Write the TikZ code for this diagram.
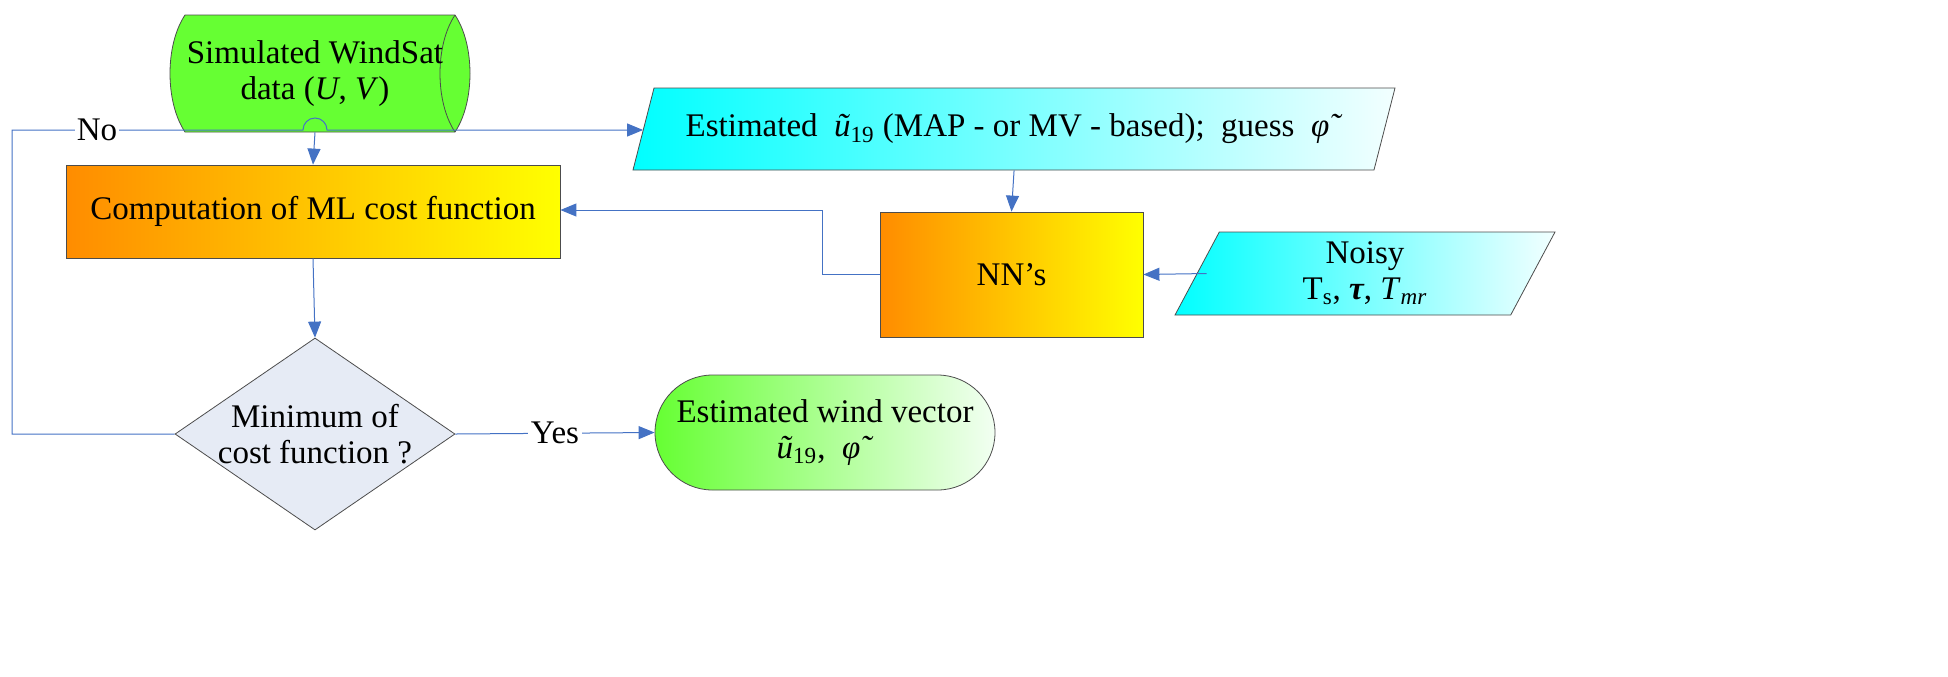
\documentclass[tikz,border=0pt]{standalone}
\usepackage{fontspec}
\setmainfont{Liberation Serif}
\usetikzlibrary{shapes.geometric,shapes.misc,arrows.meta}
\definecolor{ln}{HTML}{4472C4}
\definecolor{grn}{HTML}{66FF33}
\newlength\uu \setlength\uu{0.5pt}
\newcommand{\tu}{\textit{ũ}\textsubscript{19}}
\newcommand{\tphi}{\textit{φ̃}}
\begin{document}
\begin{tikzpicture}[x=\uu,y=-\uu,
  font=\fontsize{16.5}{20}\selectfont,
  con/.style={draw=ln,line width=0.5pt},
  arr/.style={con,-{Triangle[length=8pt,width=6.5pt]}},
  box/.style={draw=black!70,line width=0.4pt,left color=orange!90!yellow,right color=yellow,inner sep=0pt,align=center},
  para/.style={trapezium,trapezium left angle=55,trapezium right angle=125,trapezium stretches body,draw=black!70,line width=0.4pt,left color=cyan,right color=cyan!5,inner sep=0pt,align=center}]
% storage
\fill[grn,draw=black!70,line width=0.4pt] (185,15) -- (455,15) .. controls (475,45) and (475,102) .. (455,132) -- (185,132) .. controls (165,102) and (165,45) .. (185,15) -- cycle;
\draw[black!70,line width=0.4pt] (455,15) .. controls (435,45) and (435,102) .. (455,132);
\node[align=center,inner sep=0pt,minimum width=300\uu,minimum height=117\uu] (sto) at (315,73.5) {Simulated WindSat\\[-2pt]data (\textit{U}, \textit{V})};
\node[box,minimum width=494\uu,minimum height=93\uu] (ml) at (313,211.5) {Computation of ML cost function};
\node[para,minimum width=762\uu,minimum height=82\uu] (est) at (1014,129) {Estimated \ \tu{} (MAP - or MV - based); \ guess \ \tphi};
\node[box,minimum width=263\uu,minimum height=125\uu] (nn) at (1011.5,274.5) {NN’s};
\node[para,minimum width=380\uu,minimum height=83\uu] (noisy) at (1365,273.5) {Noisy\\[-2pt]T\textsubscript{s}, \textit{\textbf{τ}}, \textit{T}\textsubscript{\textit{mr}}};
\node[diamond,aspect=1.45,draw=black!70,line width=0.4pt,fill={rgb,255:red,230;green,235;blue,245},inner sep=0pt,minimum width=280\uu,minimum height=192\uu,align=center] (dec) at (315,434) {};
\node[align=center] at (315,434) {Minimum of\\[-2pt]cost function ?};
\node[rounded rectangle,draw=black!70,line width=0.4pt,left color=grn,right color=green!5,minimum width=340\uu,minimum height=115\uu,inner sep=0pt,align=center] (out) at (825,432.5) {Estimated wind vector\\[-2pt]\tu, \ \tphi};
\coordinate (c1) at (12,434);
\coordinate (c2) at (12,130);
% connectors
\draw[arr] (sto.south) -- (ml.north);
\draw[arr] (dec.west) -- (c1) -- (c2) -- (303,130) arc[start angle=180,end angle=360,radius=12] -- (est.west |- 0,130) ;
\node[fill=white,inner sep=1pt] at (97,130) {No};
\draw[arr] (est.south) -- (nn.north);
\draw[arr] (nn.west) -- (822,274.5) -- (822,210) -- (ml.east |- 0,210);
\draw[arr] (noisy.west |- 0,273.5) ++(10,0) -- (nn.east);
\draw[arr] (ml.south) -- (dec.north);
\draw[arr] (dec.east) -- node[fill=white,inner sep=1.5pt]{Yes} (out.west);
\pgfresetboundingbox
\path[use as bounding box] (0,0) rectangle (1948,676);
\end{tikzpicture}
\end{document}
